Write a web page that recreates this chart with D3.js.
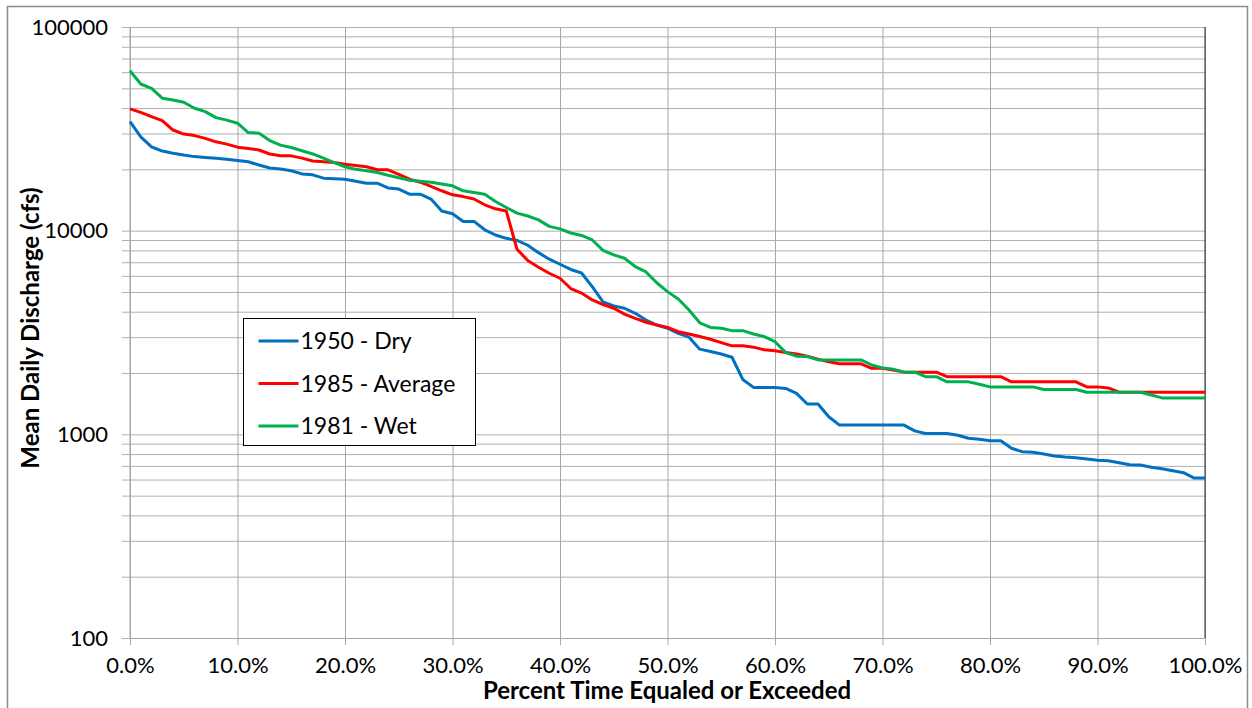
<!DOCTYPE html>
<html>
<head>
<meta charset="utf-8">
<script src="https://cdn.jsdelivr.net/npm/d3@7"></script>
<style>
  body { margin: 0; background: #fff; }
  text { font-family: Lato, "Open Sans", sans-serif; fill: #000; }
</style>
</head>
<body>
<div id="flowChart"></div>
<script>
// percent of time equaled or exceeded (x) and mean daily discharge in cfs for each year
const percentTime = [0,1,2,3,4,5,6,7,8,9,10,11,12,13,14,15,16,17,18,19,20,21,22,23,24,25,26,27,28,29,30,
  31,32,33,34,35,36,37,38,39,40,41,42,43,44,45,46,47,48,49,50,51,52,53,54,55,56,57,58,59,60,
  61,62,63,64,65,66,67,68,69,70,71,72,73,74,75,76,77,78,79,80,81,82,83,84,85,86,87,88,89,90,
  91,92,93,94,95,96,97,98,99,100];

const dry1950 = [34300,28900,25800,24600,24000,23500,23100,22900,22700,22400,22100,21800,21000,20300,20100,
  19700,19000,18800,18100,18000,17900,17500,17100,17100,16200,16000,15100,15100,14300,12500,12100,
  11100,11100,10100,9520,9170,8950,8480,7800,7240,6840,6450,6200,5310,4470,4270,4160,3930,3640,3440,3320,
  3130,3000,2620,2550,2480,2390,1860,1700,1700,1700,1680,1590,1410,1410,1220,1110,1110,1110,1110,1110,
  1110,1110,1040,1010,1010,1010,990,956,945,930,930,854,822,816,801,783,774,768,757,746,
  742,726,709,707,689,678,663,648,610,610];

const average1985 = [39600,38100,36300,34700,31200,29800,29300,28400,27300,26600,25700,25300,24900,23800,23300,
  23300,22700,22000,21800,21600,21200,20900,20600,19900,19900,18900,17900,17300,16500,15700,15000,
  14700,14300,13400,12800,12500,8100,7130,6610,6180,5840,5200,4940,4570,4340,4160,3890,3710,3550,3440,3350,
  3190,3110,3020,2930,2820,2720,2720,2680,2600,2570,2520,2480,2420,2340,2270,2220,2220,2220,2110,2110,
  2070,2020,2020,2020,2020,1920,1920,1920,1920,1920,1920,1810,1810,1810,1810,1810,1810,1810,1710,1710,
  1690,1610,1610,1610,1610,1610,1610,1610,1610,1610];

const wet1981 = [61000,52500,50000,44700,43800,42700,39900,38400,35900,34900,33700,30300,30100,27700,26300,
  25600,24700,23800,22700,21600,20600,20000,19700,19300,18700,18200,17700,17500,17300,16950,16600,
  15700,15400,15100,13900,13000,12200,11800,11300,10500,10200,9740,9470,9000,8010,7600,7320,6660,6270,5550,5020,
  4620,4080,3530,3350,3320,3230,3230,3110,3020,2850,2520,2420,2410,2320,2320,2320,2320,2320,2190,2120,
  2090,2020,2020,1920,1920,1810,1810,1810,1760,1710,1710,1710,1710,1710,1660,1660,1660,1660,1610,1610,
  1610,1610,1610,1610,1560,1510,1510,1510,1510,1510];

const seriesNames = ["1950 - Dry", "1985 - Average", "1981 - Wet"];
const seriesColors = ["#0070C0", "#FF0000", "#00B050"];

const yLabelTicks = [100, 1000, 10000, 100000];
const yGridTicks = [100,200,300,400,500,600,700,800,900,1000,2000,3000,4000,5000,6000,7000,8000,9000,
  10000,20000,30000,40000,50000,60000,70000,80000,90000,100000];
const xTicks = [0,10,20,30,40,50,60,70,80,90,100];

// set the dimensions and margins of the graph
const margin = {top: 27, right: 47, bottom: 70, left: 130},
    width = 1252 - margin.left - margin.right,
    height = 708 - margin.top - margin.bottom;

const svgRoot = d3.select("#flowChart")
  .append("svg")
    .attr("width", 1252)
    .attr("height", 708);

// outer chart frame
svgRoot.append("rect")
  .attr("x", 7.5).attr("y", 6.5)
  .attr("width", 1240).attr("height", 720)
  .attr("fill", "none")
  .attr("stroke", "#8c8c8c")
  .attr("stroke-width", 1.5);

const svg = svgRoot.append("g")
  .attr("transform", `translate(${margin.left},${margin.top})`);

const x = d3.scaleLinear()
  .domain([0, 100])
  .range([0, width]);

const y = d3.scaleLog()
  .domain([100, 100000])
  .range([height, 0]);

// horizontal grid + y axis ticks
const yAxis = svg.append("g")
  .call(d3.axisLeft(y)
    .tickValues(yGridTicks)
    .tickSize(-width - 8)
    .tickPadding(14)
    .tickFormat(d => yLabelTicks.includes(d) ? d3.format("d")(d) : ""))
  .attr("transform", "translate(-8,0)");
yAxis.select(".domain").remove();
yAxis.selectAll(".tick line")
  .attr("stroke", "#b0b0b0")
  .attr("x1", 0)
  .attr("x2", width + 8);
yAxis.selectAll(".tick text")
  .style("font-size", "22px")
  .style("font-family", "Lato, sans-serif");

// vertical grid + x axis
const xAxis = svg.append("g")
  .attr("transform", `translate(0,${height})`)
  .call(d3.axisBottom(x)
    .tickValues(xTicks)
    .tickSize(7)
    .tickPadding(12)
    .tickFormat(d => d3.format(".1f")(d) + "%"));
xAxis.select(".domain").attr("stroke", "#a6a6a6");
xAxis.selectAll(".tick line").attr("stroke", "#a6a6a6").attr("y1", -height);
xAxis.selectAll(".tick text")
  .style("font-size", "22px")
  .style("font-family", "Lato, sans-serif");

// plot area edges
svg.append("line")
  .attr("x1", 0).attr("x2", 0).attr("y1", 0).attr("y2", height)
  .attr("stroke", "#a6a6a6");
svg.append("line")
  .attr("x1", width).attr("x2", width).attr("y1", 0).attr("y2", height)
  .attr("stroke", "#262626");

// the flow duration curves, in series order
const allSeries = [dry1950, average1985, wet1981];
const line = d3.line()
  .x((d, i) => x(percentTime[i]))
  .y(d => y(d));

allSeries.forEach((s, k) => {
  svg.append("path")
    .datum(s)
    .attr("fill", "none")
    .attr("stroke", seriesColors[k])
    .attr("stroke-width", 3)
    .attr("stroke-linejoin", "round")
    .attr("d", line);
});

// legend
const legend = svgRoot.append("g").attr("transform", "translate(243.5,318.5)");
legend.append("rect")
  .attr("width", 232)
  .attr("height", 127)
  .attr("fill", "#fff")
  .attr("stroke", "#000");
seriesNames.forEach((name, k) => {
  const ly = 22.5 + k * 42.5;
  legend.append("line")
    .attr("x1", 15).attr("x2", 55)
    .attr("y1", ly).attr("y2", ly)
    .attr("stroke", seriesColors[k])
    .attr("stroke-width", 3);
  legend.append("text")
    .attr("x", 57)
    .attr("y", ly)
    .attr("dy", "0.36em")
    .style("font-size", "23px")
    .text(name);
});

// axis titles
svgRoot.append("text")
  .attr("transform", "translate(39,328) rotate(-90)")
  .attr("text-anchor", "middle")
  .style("font-size", "24px")
  .style("font-weight", "bold")
  .text("Mean Daily Discharge (cfs)");

svgRoot.append("text")
  .attr("x", 667)
  .attr("y", 699)
  .attr("text-anchor", "middle")
  .style("font-size", "24px")
  .style("font-weight", "bold")
  .text("Percent Time Equaled or Exceeded");
</script>
</body>
</html>
